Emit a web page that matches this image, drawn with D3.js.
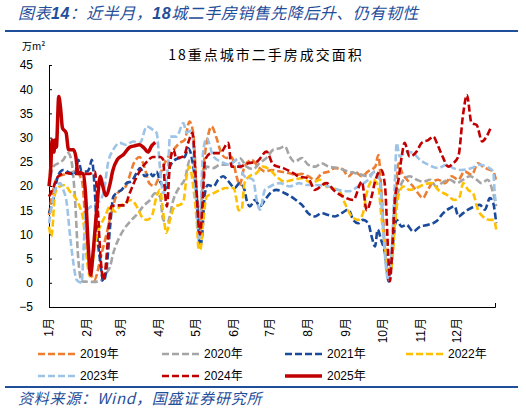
<!DOCTYPE html>
<html>
<head>
<meta charset="utf-8">
<script src="https://cdn.jsdelivr.net/npm/d3@7"></script>
<style>
  body { margin: 0; background: #fff; }
  svg { display: block; }
</style>
</head>
<body>
<svg width="526" height="412"></svg>
<script>
// Month tick labels and the day of year each month starts on.
var months = ["1月", "2月", "3月", "4月", "5月", "6月", "7月", "8月", "9月", "10月", "11月", "12月"];
var monthStart = [0, 31, 59, 90, 120, 151, 181, 212, 243, 273, 304, 334];
var yTicks = [-5, 0, 5, 10, 15, 20, 25, 30, 35, 40, 45];

// Each series: [day of year, 万m²].
var s2019 = [[0,14],[4,20],[8,22],[15,22.5],[22,23],[27,21],[30,12],[33,4],[37,0.6],[43,6],[47,10],[51,14.4],[56,18.5],[63,20],[70,25],[74,26],[78,24],[82,20.6],[86,20],[91,22.5],[96,25.4],[102,27.5],[107,28.9],[111,29.5],[115,33.3],[118,31],[121,18],[123.5,9.8],[126,22],[130,30.2],[133,32.3],[137,30],[141,26.8],[145,25.8],[149.5,26],[153.5,22],[156,20.2],[160,24],[166,25.4],[171,24],[177,23],[182,23.3],[189,23],[196,22.7],[202,22.3],[207,22.5],[212,22],[218,21.3],[223,22.5],[229,23],[234,23.7],[240,23.5],[245,22],[250,23],[256,22],[261,23],[267,24],[269.5,26.4],[272,19],[275,7.5],[277.7,2],[280.4,4],[283,14],[286,24.7],[289,22.7],[293,21.3],[298,19.9],[302,18.5],[306,17.5],[310,19.2],[314.5,20.9],[318.5,21.3],[324,20.6],[329.5,22],[335,21.3],[340,23],[346,22.3],[351,24.7],[355,24],[359,23.5],[363.5,23],[366,21]];
var s2020 = [[0,19.9],[3.5,24],[7.6,24.7],[11.7,25.4],[15.8,26.8],[18.5,25],[21,18.5],[24,4.8],[26.7,0.3],[35,0.2],[42,0.3],[44.5,1.3],[50,3.4],[52.6,6.1],[58,9.6],[62,11.3],[67.6,13],[73,14.4],[77,15.8],[82.6,17.1],[86.7,18.5],[90.8,17.8],[93.5,13],[97,12.5],[101.7,17.1],[107,19.9],[111,21.3],[115.4,25.4],[118,25],[121,18],[123.5,14],[126,20],[129,24],[134.5,23.7],[140,24.4],[145,24.4],[151,25],[156,25.8],[161.7,24],[167,23.5],[172.6,24.8],[178,25.8],[183.5,27.5],[189,27.8],[193,28.2],[197,26.1],[201,25],[207,25.8],[212,24.4],[218,24],[223,24.7],[229,24],[237,23.7],[245,23],[250,22.7],[256,22.3],[261,22],[267,23],[271,21.3],[273.6,11.5],[276.3,3.4],[279,2],[281.7,8.9],[284.5,17.1],[288.6,20.6],[291,21.5],[295,22],[301,21.3],[306,20.9],[312,21.3],[317,19.9],[323,20.9],[328,21.3],[333.5,20.6],[339,21.3],[344.5,22],[350,21.3],[354,20.6],[359,21.3],[363,19],[366,15.8]];
var s2021 = [[0,14.4],[3.5,17.1],[7.6,22.3],[11.7,23.3],[17,22.7],[21,22.3],[24,25.4],[26.7,23],[31,23],[33.5,24],[35,25.4],[37.6,18.5],[39,11.6],[41.7,4.8],[44.5,0.3],[47,2.7],[50,11.6],[52.6,17.8],[55,18.5],[59.5,19.2],[63.5,20.6],[67.6,21],[71.7,22.7],[74.5,23.7],[78.5,22],[82.6,22.7],[85,22],[88,23],[90.8,21],[93.5,19.9],[96,19.5],[99,24],[103,25.4],[107,25.8],[111,26],[114,27.8],[116.7,26],[121,17.1],[123.5,7.5],[125,8.9],[127.6,18.5],[130,20.2],[134.5,19.9],[138.5,21.3],[142.6,22],[146.7,21],[152,19.6],[156,20.6],[160,19.2],[161.7,17.1],[164.4,15.8],[168.5,17.1],[172.6,15.8],[176.7,17.1],[181,18.5],[186,19.2],[193,18.5],[200,17.5],[205,16.5],[207,16.1],[212,14.4],[217.7,13.7],[223,14.4],[228.6,14],[234,13.7],[239.5,14.4],[245,15.1],[249,13],[253,12.3],[257,13],[261.3,12.3],[264,9.6],[266.8,7.5],[269,11],[271.7,8.9],[275,6.1],[278,0.3],[281.7,8.9],[284.5,13],[288.6,11.6],[292.6,12],[298,10.6],[303.6,11.6],[310.4,12],[317,12.7],[322.6,14.4],[328,15.4],[332,15.8],[335,13.7],[339,14.4],[343,15.1],[348.5,15.8],[352.6,16.1],[356.7,15.1],[360.8,17.5],[363.5,16.5],[366,12.3]];
var s2022 = [[0,11.6],[2,9.6],[5,18.5],[9,19.9],[13,20.2],[17,18.9],[21,17.8],[25,15.8],[28,13],[31,4.8],[33.5,1.3],[36,4.8],[39,9.6],[41.7,11.6],[45.8,13.7],[50,15.8],[54,14.7],[58,15.8],[62,16.5],[67.6,17.1],[71.7,15.8],[75.8,13.7],[80,13],[84,13.7],[88,17.8],[90.8,19.2],[93.5,14.4],[96,10.3],[99,13],[103,15.8],[107,16.1],[110,16.8],[112.6,22],[115,24],[118,20],[121,12.3],[122.5,6.8],[124,7],[126,12],[129,17.8],[134.5,18.5],[140,19.2],[145,19.6],[151,19.6],[153.5,17.1],[155,15],[157.6,15],[160,20.6],[164,22],[170,22.7],[175,24],[181,23.3],[186,22],[193,20.9],[200,21.3],[207,21.6],[215,20.6],[221.8,21.3],[228.6,19.6],[237,19.2],[242,16.5],[247.7,13.7],[253,13],[257,14.4],[260,18.5],[265.4,21.3],[269.5,19.9],[272,13.7],[275,7.5],[277.7,2],[280.4,3.4],[283,11.6],[285.8,17.8],[290,19.9],[295,19.2],[300.8,19.6],[306,20.2],[313,20.6],[318.5,19.2],[325.4,18.2],[332,17.1],[336,17.8],[339,20.6],[343,19.2],[347,18.5],[351,15.1],[355,13.7],[361,13],[364,13],[366,11]];
var s2023 = [[0,12.3],[5,19.2],[9,20.6],[11.7,19.2],[14.5,16.5],[17,10.3],[20,4],[22.6,0.6],[26.7,0],[28.5,8],[30,14.5],[33,15.5],[36,16],[40,16.5],[44.5,18.5],[48.5,25],[52.6,27.5],[58,28.9],[63,28.5],[69,29.2],[74.5,28.9],[80,32.3],[85,31.6],[88,31],[91,23.3],[93.5,18.5],[97.6,24.7],[99,30.2],[104.4,30.2],[110,33],[112.6,31],[116.7,31.5],[121,14],[123,8.9],[126,26.8],[129,29.9],[134.5,26.1],[141,25],[148,24.4],[153.5,25.4],[160,22],[167,21.3],[170,17.1],[172.6,15.1],[176.7,19.2],[181,19.9],[189,20.6],[197,19.9],[205,20.6],[209.5,20.2],[217.7,20.2],[228.6,19.9],[236.8,19.2],[245,18.9],[253,19.9],[261.3,21.3],[266.8,23],[270.8,20.6],[273.6,10.3],[276.3,2],[278,0.3],[280,5.4],[283,20.6],[284.5,28.9],[287,26.1],[292.6,27.1],[298,26.8],[303.6,25.4],[310.4,24.4],[318.5,23.7],[325.4,24.4],[330.8,23.7],[337.6,23.3],[345.8,23.7],[352.6,24.4],[358,24],[363.5,23],[365,17.8],[366,16.5]];
var s2024 = [[0,17.8],[4,20],[7.6,22],[14,22.7],[20,22.5],[25,22.5],[33,22.5],[37.6,23],[40,15],[42,6],[44.5,0.6],[47,5],[49,12],[51,15.8],[55,16],[58,16],[62,16],[66,18.5],[72,22],[80,25],[85,26],[91,26],[93.5,25.4],[95,18.5],[96.5,15.8],[99,24.7],[102,27.5],[104,25.8],[110,26.1],[114,29],[117.5,31],[120,22],[123.5,10],[126,18],[127.6,25.4],[133,26.8],[140,26.8],[146.7,28.9],[149.5,24],[156,24],[163,24.7],[170,25],[178,27.1],[183.5,24.4],[191.7,23.7],[201,22.5],[204,22],[212,21.6],[217.7,19.2],[227,20.6],[234,18.9],[241,17.8],[249,17.1],[256,20.9],[260,15],[264,17.8],[266.8,20.9],[272,23.3],[275,19.9],[277.7,5.4],[279,0.3],[281,7.5],[283,17],[286,21.3],[288.6,26],[291,28.9],[295,26.1],[300.8,27.1],[304.9,28.9],[310.4,29.5],[314.5,30.2],[318.5,28.2],[322.6,25.8],[326.7,24],[330.8,24.7],[335,26.1],[339,35],[342,38.8],[345.8,33],[350,32.6],[354.5,29.2],[358,30.2],[362,32.3]];
var s2025 = [[0,20],[1.5,24],[2.5,29.5],[4,27],[5,29.5],[6,28],[8,38.5],[9.5,36],[11,32],[14,31],[16,27.5],[20,27.5],[22,26],[23.5,23],[28,22.5],[30,18],[32,8],[34,1.6],[36,6],[39,15],[42,22],[44,20],[46.5,18],[50,20.5],[52,23],[56,25.5],[61,26.5],[66,28],[70,28.3],[74,28.5],[78,27.8],[81,27],[84,28.3],[87,29]];

var years = ["2019年", "2020年", "2021年", "2022年", "2023年", "2024年", "2025年"];
var seriesData = [s2019, s2020, s2021, s2022, s2023, s2024, s2025];
var colors = ["#ED7D31", "#A5A5A5", "#1A4A9C", "#FFC000", "#9DC3E6", "#C00000", "#C00000"];

var svg = d3.select("svg");
var blue = "#1F4E9A";

// Header and footer.
var head = svg.append("text")
    .attr("x", 18).attr("y", 19)
    .attr("font-family", "'Noto Sans CJK SC', sans-serif")
    .attr("font-size", 16).attr("font-style", "italic")
    .attr("letter-spacing", 0.5)
    .attr("fill", blue);
head.append("tspan").text("图表");
head.append("tspan").attr("font-family", "'Liberation Sans', Arial").attr("font-weight", "bold").text("14");
head.append("tspan").text("：近半月，");
head.append("tspan").attr("font-family", "'Liberation Sans', Arial").attr("font-weight", "bold").text("18");
head.append("tspan").text("城二手房销售先降后升、仍有韧性");

svg.append("rect").attr("x", 5).attr("y", 30).attr("width", 513).attr("height", 2).attr("fill", blue);
svg.append("rect").attr("x", 5).attr("y", 386).attr("width", 513).attr("height", 2).attr("fill", blue);

svg.append("text")
    .attr("x", 18).attr("y", 404)
    .attr("font-family", "'Noto Sans CJK SC', sans-serif")
    .attr("font-size", 15).attr("font-style", "italic")
    .attr("letter-spacing", 0.8)
    .attr("fill", blue)
    .text("资料来源：Wind，国盛证券研究所");

svg.append("text")
    .attr("x", 22).attr("y", 50)
    .attr("font-family", "'Noto Sans CJK SC', sans-serif")
    .attr("font-size", 10)
    .text("万m²");

svg.append("text")
    .attr("x", 266).attr("y", 60)
    .attr("text-anchor", "middle")
    .attr("font-family", "'Noto Sans CJK SC', sans-serif")
    .attr("font-size", 14).attr("letter-spacing", 2)
    .text("18重点城市二手房成交面积");

// Scales and axes.
var x = d3.scaleLinear().domain([0, 365]).range([49, 495]);
var y = d3.scaleLinear().domain([-5, 45]).range([307, 65]);

var yAxis = svg.append("g")
    .attr("transform", "translate(49,0)")
    .call(d3.axisLeft(y).tickValues(yTicks).tickSizeInner(-3).tickSizeOuter(0).tickPadding(16));
yAxis.selectAll("text").attr("font-family", "'Liberation Sans', Arial").attr("font-size", 12).attr("fill", "#000");
yAxis.selectAll("line, path").attr("stroke", "#000");

var xAxis = svg.append("g")
    .attr("transform", "translate(0," + y(-5) + ")")
    .call(d3.axisBottom(x).tickValues([]).tickSizeOuter(-4));
xAxis.selectAll("path").attr("stroke", "#000");

svg.append("g").selectAll("text")
    .data(months)
    .join("text")
    .attr("transform", function(d, i) { return "translate(" + x(monthStart[i]) + ",318) rotate(-90)"; })
    .attr("dy", "0.35em")
    .attr("text-anchor", "end")
    .attr("font-family", "'Liberation Sans', 'Noto Sans CJK SC', sans-serif")
    .attr("font-size", 12)
    .text(function(d) { return d; });

// Lines.
var line = d3.line()
    .x(function(d) { return x(d[0]); })
    .y(function(d) { return y(d[1]); })
    .curve(d3.curveMonotoneX);

seriesData.forEach(function(s, i) {
    var solid = i === 6;
    svg.append("path")
        .datum(s)
        .attr("d", line)
        .attr("fill", "none")
        .attr("stroke", colors[i])
        .attr("stroke-width", solid ? 3.5 : 2.6)
        .attr("stroke-dasharray", solid ? null : "7,3")
        .attr("stroke-linejoin", "round");
});

// Legend.
var legendX = [38, 162, 285, 406];
var legendY = [354, 376];
var legend = svg.append("g").selectAll("g")
    .data(years)
    .join("g")
    .attr("transform", function(d, i) { return "translate(" + legendX[i % 4] + "," + legendY[Math.floor(i / 4)] + ")"; });
legend.append("line")
    .attr("x1", 0).attr("x2", 37)
    .attr("stroke", function(d, i) { return colors[i]; })
    .attr("stroke-width", function(d, i) { return i === 6 ? 3.5 : 2.6; })
    .attr("stroke-dasharray", function(d, i) { return i === 6 ? null : "7,3"; });
legend.append("text")
    .attr("x", 42).attr("dy", "0.35em")
    .attr("font-family", "'Liberation Sans', 'Noto Sans CJK SC', sans-serif")
    .attr("font-size", 12)
    .text(function(d) { return d; });
</script>
</body>
</html>
